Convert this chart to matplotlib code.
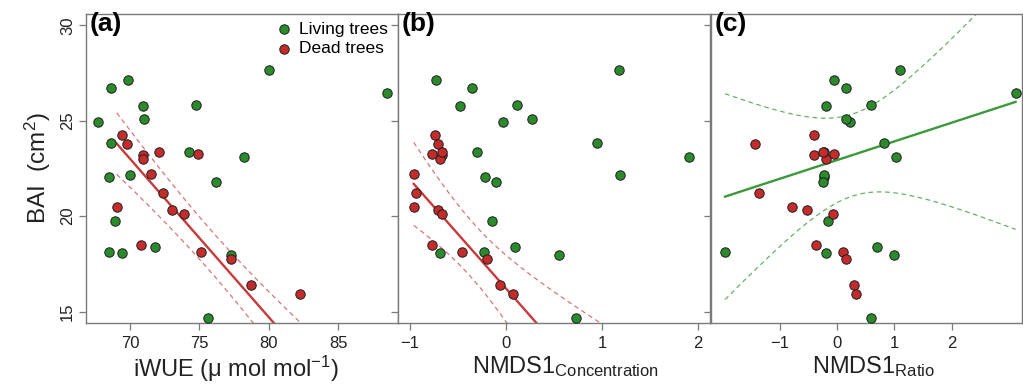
import numpy as np
import matplotlib
matplotlib.use("Agg")
import matplotlib.pyplot as plt

plt.rcParams['font.family'] = ['Liberation Sans', 'DejaVu Sans']
plt.rcParams['mathtext.fontset'] = 'custom'
plt.rcParams['mathtext.rm'] = 'Liberation Sans'
plt.rcParams['mathtext.it'] = 'Liberation Sans:italic'

nan = np.nan

# BAI (cm2) of each tree
living_bai = [24.96, 26.74, 27.12, 23.84, 22.06, 22.17, 19.74, 18.14, 18.07, 25.78,
              25.08, 18.40, 23.39, 25.85, 21.80, 23.11, 17.98, 14.65, 27.65, 26.48]
dead_bai = [24.26, 23.81, 23.21, 23.00, 23.39, 22.19, 20.49, 21.22, 20.32, 20.09,
            18.50, 18.14, 23.27, 17.77, 16.41, 15.92]

# iWUE
living_iwue = [67.67, 68.65, 69.83, 68.63, 68.51, 69.98, 68.94, 68.47, 69.42, 70.96,
               71.03, 71.82, 74.27, 74.77, 76.17, 78.19, 77.29, 75.59, 79.99, 88.49]
dead_iwue = [69.45, 69.81, 70.96, 70.96, 72.07, 71.51, 69.04, 72.40, 73.02, 73.91,
             70.77, 75.11, 74.90, 77.27, 78.71, 82.22]

# NMDS1 concentration (last living tree falls outside the panel)
living_conc = [-0.028, -0.357, -0.73, 0.947, -0.219, 1.186, -0.146, -0.226, -0.684, -0.479,
               0.274, 0.097, -0.305, 0.111, -0.104, 1.907, 0.555, 0.725, 1.18, nan]
dead_conc = [-0.742, -0.704, -0.67, -0.69, -0.663, -0.954, -0.96, -0.94, -0.704, -0.663,
             -0.767, -0.461, -0.767, -0.195, -0.066, 0.076]

# NMDS1 ratio
living_ratio = [0.226, 0.15, -0.05, 0.818, -0.22, -0.226, -0.157, -1.95, -0.197, -0.19,
                0.157, 0.70, -0.22, 0.60, -0.245, 1.03, 0.99, 0.60, 1.10, 3.11]
dead_ratio = [-0.406, -1.43, -0.395, -0.186, -0.244, nan, -0.78, -1.36, -0.52, -0.064,
              -0.366, 0.104, -0.058, 0.15, 0.29, 0.33]

# fitted lines: intercept, slope
fit_a = [81.18, -0.831]
fit_b = [16.21, -5.71]
fit_c = [22.94, 0.982]
# confidence bands: centre x, half width at centre, growth
band_a = [75.7, 1.10, 0.177]
band_b = [-0.352, 1.48, 2.62]
band_c = [0.27, 2.15, 2.23]

verde = '#2b8a2b'
rojo = '#c42b2b'
gris = '#7a7a7a'

fig = plt.figure(figsize=(10.23, 3.88), dpi=100)
bottom = 1 - 323 / 388
height = 309 / 388
ax_a = fig.add_axes([86 / 1023, bottom, 312 / 1023, height])
ax_b = fig.add_axes([398 / 1023, bottom, 312 / 1023, height])
ax_c = fig.add_axes([711 / 1023, bottom, 311 / 1023, height])


def panel(ax, lx, dx, fit, band, grupo, xlim, xticks, letra):
    ax.scatter(lx, living_bai, s=46, c=verde, edgecolors='#1e1e1e', linewidths=0.7,
               zorder=3, label='Living trees')
    ax.scatter(dx, dead_bai, s=46, c=rojo, edgecolors='#1e1e1e', linewidths=0.7,
               zorder=4, label='Dead trees')

    # recta y banda
    if grupo == 'dead':
        col, col2, gx = '#c83a3a', '#d67070', dx
    else:
        col, col2, gx = '#3a9a3a', '#5eae5e', lx
    todos = np.concatenate([np.array(lx, float), np.array(dx, float)])
    xs = np.linspace(np.nanmin(gx), np.nanmax(todos), 300)
    ys = fit[0] + fit[1] * xs
    hw = np.sqrt(band[1] ** 2 + (band[2] * (xs - band[0])) ** 2)
    ax.plot(xs, ys, color=col, lw=1.7, zorder=2)
    ax.plot(xs, ys + hw, color=col2, lw=0.85, ls=(0, (4, 3)), zorder=2)
    ax.plot(xs, ys - hw, color=col2, lw=0.85, ls=(0, (4, 3)), zorder=2)

    ax.set_xlim(xlim)
    ax.set_ylim(14.4, 30.6)
    ax.set_xticks(xticks)
    ax.set_yticks([15, 20, 25, 30])
    ax.set_xticklabels(['\u2212' + str(-t) if t < 0 else str(t) for t in xticks])
    for s in ax.spines.values():
        s.set_color(gris)
        s.set_linewidth(1.0)
    ax.tick_params(direction='out', length=5, width=0.9, color=gris, labelsize=12,
                   labelcolor='#222222', pad=3)
    ax.tick_params(axis='x', pad=4.5)
    ax.tick_params(axis='y', labelrotation=90)
    for l in ax.get_yticklabels():
        l.set_va('center')
    ax.text(0.012, 1.005, letra, transform=ax.transAxes, fontsize=19, fontweight='bold',
            va='top', ha='left', zorder=5)


panel(ax_a, living_iwue, dead_iwue, fit_a, band_a, 'dead', (66.83, 89.3), [70, 75, 80, 85], '(a)')
panel(ax_b, living_conc, dead_conc, fit_b, band_b, 'dead', (-1.124, 2.123), [-1, 0, 1, 2], '(b)')
panel(ax_c, living_ratio, dead_ratio, fit_c, band_c, 'living', (-2.194, 3.221), [-1, 0, 1, 2], '(c)')

ax_b.tick_params(labelleft=False)
ax_c.tick_params(labelleft=False)

ax_a.set_ylabel('BAI  (cm$^2$)', fontsize=17.5, color='#222222', labelpad=5)
ax_a.set_xlabel('iWUE (\u03bc mol mol$^{-1}$)', fontsize=17, color='#222222', labelpad=0)
ax_b.set_xlabel(r'NMDS1$_{\mathrm{Concentration}}$', fontsize=17, color='#222222', labelpad=0)
ax_c.set_xlabel(r'NMDS1$_{\mathrm{Ratio}}$', fontsize=17, color='#222222', labelpad=0)
ax_b.xaxis.set_label_coords(0.538, -0.1)
ax_c.xaxis.set_label_coords(0.522, -0.1)
ax_a.xaxis.set_label_coords(0.48, -0.1)
for ax in (ax_a, ax_b, ax_c):
    ax.xaxis.label.set_va('top')

ax_a.legend(loc='upper right', frameon=False, fontsize=12.5, handletextpad=0.17,
            handlelength=1.4, borderaxespad=0.17, labelspacing=0.25,
            bbox_to_anchor=(1.0, 1.008))

fig.savefig('out.png', dpi=100)
